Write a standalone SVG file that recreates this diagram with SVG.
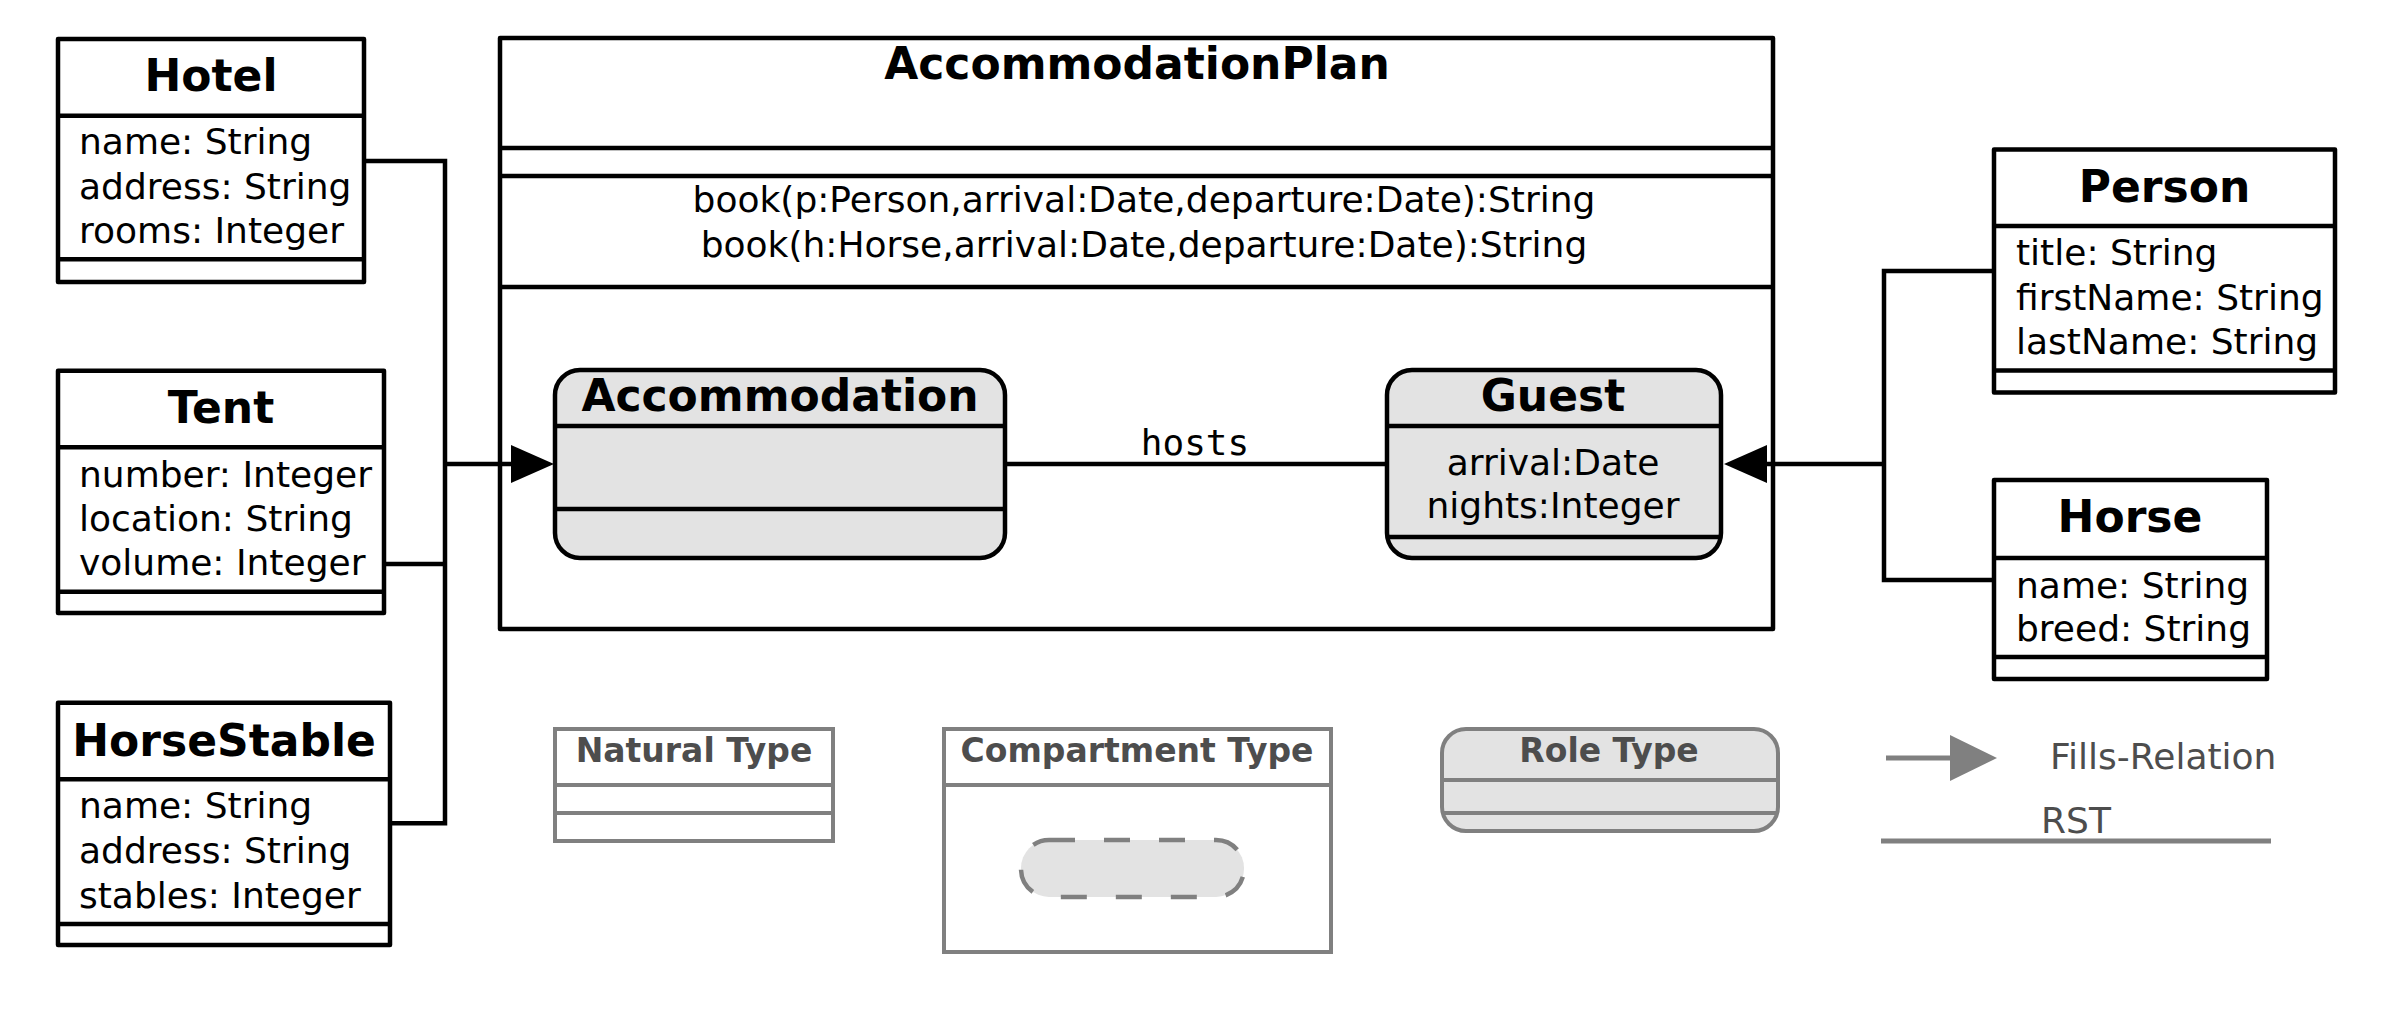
<svg xmlns="http://www.w3.org/2000/svg" width="2401" height="1019" viewBox="0 0 2401 1019">
<style>
text{font-family:"DejaVu Sans","Liberation Sans",sans-serif;font-size:36px;fill:#000}
.t{font-weight:bold;font-size:44px;text-anchor:middle}
.c{text-anchor:middle}
.mono{font-family:"DejaVu Sans Mono","Liberation Mono",monospace;font-size:36px}
.box{fill:#fff;stroke:#000;stroke-width:4.5;stroke-linejoin:round}
.role{fill:#e3e3e3;stroke:#000;stroke-width:4.5}
.ln{stroke:#000;stroke-width:4.5;fill:none}
.g{stroke:#808080;stroke-width:4;fill:#fff}
.gl{stroke:#808080;stroke-width:4;fill:none}
.gt{font-weight:bold;font-size:33px;text-anchor:middle;fill:#4d4d4d}
.gn{fill:#4d4d4d}
</style>
<defs>
<marker id="fills" markerUnits="userSpaceOnUse" markerWidth="44" markerHeight="40" refX="1" refY="19" orient="auto" overflow="visible">
<path d="M0,0 L43,19 L0,38 z" fill="#000"/>
</marker>
<marker id="fillsg" markerUnits="userSpaceOnUse" markerWidth="48" markerHeight="46" refX="1" refY="23" orient="auto" overflow="visible">
<path d="M0,0 L47,23 L0,46 z" fill="#808080"/>
</marker>
</defs>

<g id="Hotel">
<rect class="box" x="58" y="39" width="306" height="243"/>
<path class="ln" d="M58,115.7 H364 M58,259.3 H364"/>
<text class="t" x="211" y="91">Hotel</text>
<text x="79" y="154">name: String</text>
<text x="79" y="198.5">address: String</text>
<text x="79" y="243">rooms: Integer</text>
</g>

<g id="Tent">
<rect class="box" x="58" y="370.7" width="326" height="242.3"/>
<path class="ln" d="M58,447.3 H384 M58,591.7 H384"/>
<text class="t" x="221" y="423">Tent</text>
<text x="79" y="487">number: Integer</text>
<text x="79" y="531">location: String</text>
<text x="79" y="575">volume: Integer</text>
</g>

<g id="HorseStable">
<rect class="box" x="58" y="702.7" width="332" height="242.3"/>
<path class="ln" d="M58,779.3 H390 M58,924 H390"/>
<text class="t" x="224" y="756">HorseStable</text>
<text x="79" y="818">name: String</text>
<text x="79" y="863">address: String</text>
<text x="79" y="908">stables: Integer</text>
</g>

<g id="AccommodationPlan">
<rect class="box" x="500" y="38" width="1273" height="591"/>
<path class="ln" d="M500,148 H1773 M500,176 H1773 M500,287 H1773"/>
<text class="t" x="1137" y="79">AccommodationPlan</text>
<text class="c" x="1144" y="212">book(p:Person,arrival:Date,departure:Date):String</text>
<text class="c" x="1144" y="257">book(h:Horse,arrival:Date,departure:Date):String</text>
</g>

<g id="Accommodation">
<rect class="role" x="555" y="370" width="450" height="188" rx="25" ry="25"/>
<path class="ln" d="M555,426 H1005 M555,509 H1005"/>
<text class="t" x="780" y="411">Accommodation</text>
</g>

<g id="Guest">
<rect class="role" x="1387" y="370" width="334" height="188" rx="25" ry="25"/>
<path class="ln" d="M1387,426 H1721 M1387,537 H1721"/>
<text class="t" x="1553" y="411">Guest</text>
<text class="c" x="1553" y="475">arrival:Date</text>
<text class="c" x="1553" y="518">nights:Integer</text>
</g>

<g id="Person">
<rect class="box" x="1994" y="149.5" width="341" height="243"/>
<path class="ln" d="M1994,226 H2335 M1994,370.5 H2335"/>
<text class="t" x="2164.5" y="201.5">Person</text>
<text x="2016" y="265">title: String</text>
<text x="2016" y="309.5">firstName: String</text>
<text x="2016" y="353.5">lastName: String</text>
</g>

<g id="Horse">
<rect class="box" x="1994" y="480" width="273" height="199"/>
<path class="ln" d="M1994,558 H2267 M1994,657 H2267"/>
<text class="t" x="2130" y="532">Horse</text>
<text x="2016" y="598">name: String</text>
<text x="2016" y="641">breed: String</text>
</g>

<g id="connectors">
<path class="ln" d="M364,161 H445 V823.3 H390"/>
<path class="ln" d="M384,564 H445"/>
<path class="ln" d="M445,464 H512" marker-end="url(#fills)"/>
<path class="ln" d="M1994,271 H1884 V580 H1994"/>
<path class="ln" d="M1884,464 H1766" marker-end="url(#fills)"/>
<path class="ln" d="M1005,464 H1387"/>
<text class="mono" x="1195" y="455" text-anchor="middle">hosts</text>
</g>

<g id="legend-natural">
<rect class="g" x="555" y="729" width="278" height="112"/>
<path class="gl" d="M555,785 H833 M555,813 H833"/>
<text class="gt" x="694" y="762">Natural Type</text>
</g>

<g id="legend-compartment">
<rect class="g" x="944" y="729" width="387" height="223"/>
<path class="gl" d="M944,785 H1331"/>
<text class="gt" x="1137" y="762">Compartment Type</text>
<rect x="1021" y="840" width="223" height="57" rx="28" ry="28" fill="#e3e3e3" stroke="#808080" stroke-width="4.5" stroke-dasharray="26 29"/>
</g>

<g id="legend-role">
<rect x="1442" y="729" width="336" height="102" rx="24" ry="24" fill="#e3e3e3" stroke="#808080" stroke-width="4"/>
<path class="gl" d="M1442,780 H1778 M1442,813 H1778"/>
<text class="gt" x="1609" y="762">Role Type</text>
</g>

<g id="legend-fills">
<path d="M1886,758 H1951" stroke="#808080" stroke-width="5" fill="none" marker-end="url(#fillsg)"/>
<text class="gn" x="2050" y="769">Fills-Relation</text>
</g>

<g id="legend-rst">
<path d="M1881,841 H2271" stroke="#808080" stroke-width="5" fill="none"/>
<text class="gn" x="2076" y="833" text-anchor="middle">RST</text>
</g>
</svg>
